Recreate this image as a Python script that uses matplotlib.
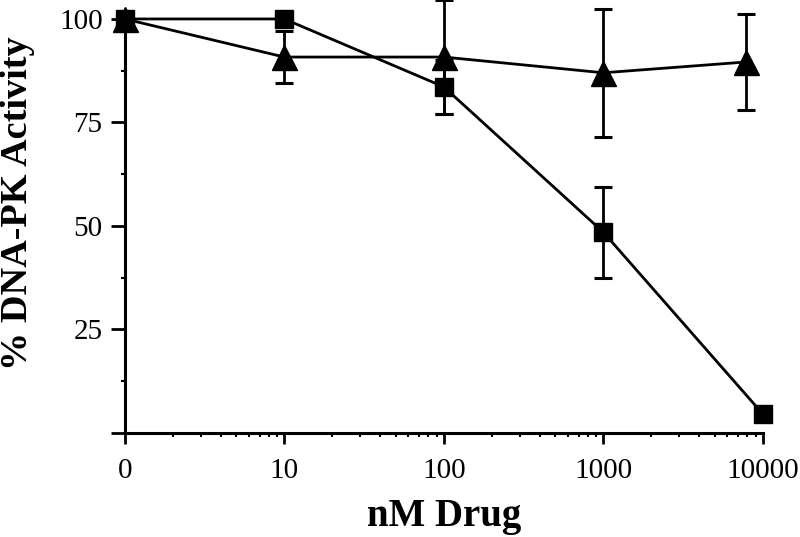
import matplotlib
matplotlib.use("Agg")
import matplotlib.pyplot as plt
from matplotlib.ticker import FixedLocator, NullFormatter

# dose axis: "0" is drawn at position 1 on the log axis
sq_dose = [1, 10, 100, 1000, 10000]
sq_activity = [100, 100, 83.6, 48.5, 4.6]
sq_err = [0, 0, 6.5, 11.0, 0]

tri_dose = [1, 10, 100, 1000, 7800]
tri_activity = [100, 90.8, 90.8, 87.0, 89.6]
tri_err = [0, 6.3, 13.8, 15.5, 11.7]

x_ticks = [1, 10, 100, 1000, 10000]
x_labels = ["0", "10", "100", "1000", "10000"]
y_ticks = [0, 25, 50, 75, 100]
y_labels = ["", "25", "50", "75", "100"]

plt.rcParams["font.family"] = ["Liberation Serif", "DejaVu Serif"]

fig = plt.figure(figsize=(8, 5.37), dpi=100)
ax = fig.add_axes([0.156, 0.1937, 0.7975, 0.771])

ax.errorbar(tri_dose, tri_activity, yerr=tri_err, color="black", marker="^",
            markersize=18, linewidth=2.0, elinewidth=2.0, capsize=6.8,
            capthick=2.2, zorder=3)
ax.errorbar(sq_dose, sq_activity, yerr=sq_err, color="black", marker="s",
            markersize=13, linewidth=2.0, elinewidth=2.0, capsize=6.8,
            capthick=2.2, zorder=4)
for art in ax.get_children():
    try:
        art.set_clip_on(False)
    except AttributeError:
        pass

ax.set_xscale("log")
ax.set_xlim(1, 10000)
ax.set_ylim(0, 100)

ax.xaxis.set_major_locator(FixedLocator(x_ticks))
ax.set_xticklabels(x_labels)
minor_x = [m * 10 ** d for d in range(4) for m in range(2, 10)]
ax.xaxis.set_minor_locator(FixedLocator(minor_x))
ax.xaxis.set_minor_formatter(NullFormatter())

ax.set_yticks(y_ticks)
ax.set_yticklabels(y_labels)
ax.yaxis.set_minor_locator(FixedLocator([12.5, 37.5, 62.5, 87.5]))

for side in ("top", "right"):
    ax.spines[side].set_visible(False)
for side in ("left", "bottom"):
    ax.spines[side].set_linewidth(2.2)

ax.tick_params(axis="both", which="major", direction="out", width=2.0,
               labelsize=21)
ax.tick_params(axis="x", which="major", length=8, pad=10)
ax.tick_params(axis="y", which="major", length=10, pad=6)
ax.tick_params(axis="both", which="minor", direction="out", width=1.5, length=3)

ax.set_xlabel("nM Drug", fontsize=28, fontweight="bold")
ax.set_ylabel("% DNA-PK Activity", fontsize=27.5, fontweight="bold")
ax.xaxis.set_label_coords(0.5, -0.158)
ax.yaxis.set_label_coords(-0.14, 0.556)

fig.savefig("out.png", dpi=100)
